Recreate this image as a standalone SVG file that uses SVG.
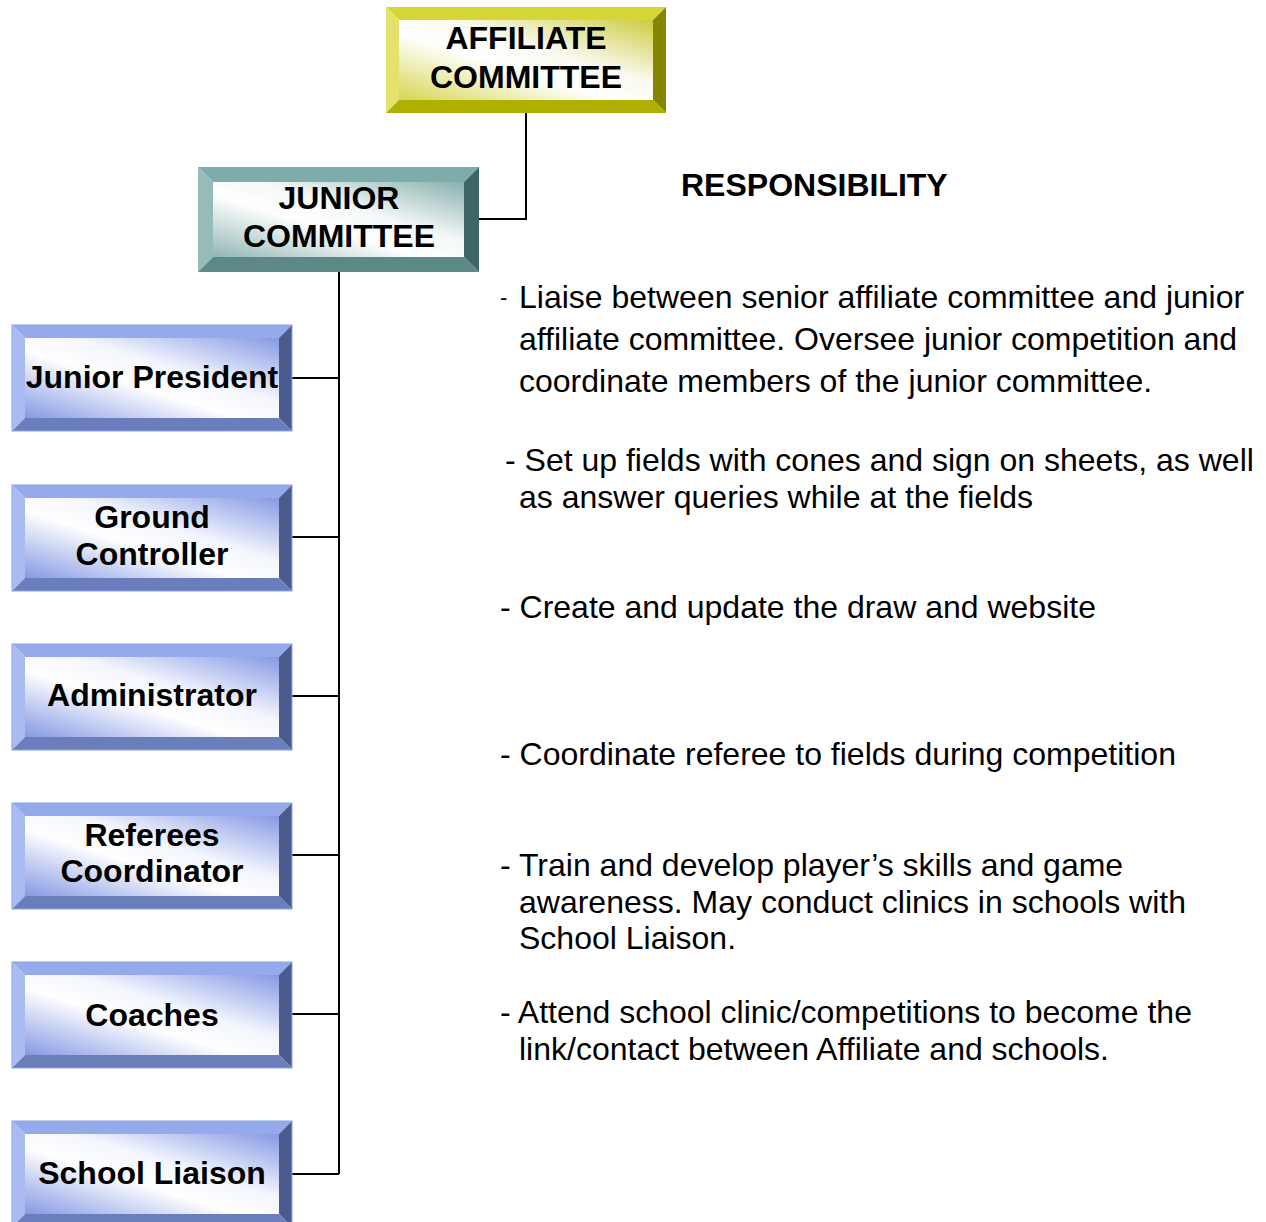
<svg xmlns="http://www.w3.org/2000/svg" width="1266" height="1222" viewBox="0 0 1266 1222">
<style>
.lbl{font-family:"Liberation Sans",Arial,sans-serif;font-weight:bold;font-size:32px;fill:#000;text-anchor:middle}
.txt{font-family:"Liberation Sans",Arial,sans-serif;font-size:32px;fill:#000}
.hd{font-family:"Liberation Sans",Arial,sans-serif;font-weight:bold;font-size:32px;fill:#000}
.con{fill:none;stroke:#000;stroke-width:2}
.bT{fill:#95aaeb}.bL{fill:#aabbf1}.bR{fill:#4b5b8d}.bB{fill:#6a7ebc}.bI{fill:url(#gB)}.bO{fill:none;stroke:#8ea2e6;stroke-width:1}
.yT{fill:#d6d638}.yL{fill:#e2e26c}.yR{fill:#858500}.yB{fill:#b0b000}.yI{fill:url(#gY)}
.tT{fill:#7eacaa}.tL{fill:#96bcba}.tR{fill:#3e6666}.tB{fill:#5c8886}.tI{fill:url(#gT)}
</style>
<defs>
<linearGradient id="gB" x1="0" y1="1" x2="1" y2="0">
<stop offset="0" stop-color="#8599e4"/><stop offset="0.42" stop-color="#ffffff"/><stop offset="0.6" stop-color="#f4f6fe"/><stop offset="1" stop-color="#8599e4"/>
</linearGradient>
<linearGradient id="gY" x1="0" y1="1" x2="1" y2="0">
<stop offset="0" stop-color="#d6d650"/><stop offset="0.42" stop-color="#ffffff"/><stop offset="0.6" stop-color="#fafaf0"/><stop offset="1" stop-color="#cccc40"/>
</linearGradient>
<linearGradient id="gT" x1="0" y1="1" x2="1" y2="0">
<stop offset="0" stop-color="#90b6b4"/><stop offset="0.42" stop-color="#ffffff"/><stop offset="0.6" stop-color="#f4f8f8"/><stop offset="1" stop-color="#88b0ae"/>
</linearGradient>
</defs>
<rect width="1266" height="1222" fill="#fff"/>

<g id="connectors">
<path class="con" d="M526,113 V219 H479"/>
<path class="con" d="M339,272 V1174"/>
<path class="con" d="M292,378 H339"/>
<path class="con" d="M292,537 H339"/>
<path class="con" d="M292,696 H339"/>
<path class="con" d="M292,855 H339"/>
<path class="con" d="M292,1014 H339"/>
<path class="con" d="M292,1174 H339"/>
</g>

<g id="affiliate-committee">
<polygon class="yT" points="386,7 666,7 653,20 399,20"/>
<polygon class="yL" points="386,7 399,20 399,100 386,113"/>
<polygon class="yR" points="666,7 666,113 653,100 653,20"/>
<polygon class="yB" points="386,113 666,113 653,100 399,100"/>
<rect class="yI" x="399" y="20" width="254" height="80"/>
<text class="lbl" x="526" y="49">AFFILIATE</text>
<text class="lbl" x="526" y="88">COMMITTEE</text>
</g>

<g id="junior-committee">
<polygon class="tT" points="198,167 479,167 464,182 213,182"/>
<polygon class="tL" points="198,167 213,182 213,257 198,272"/>
<polygon class="tR" points="479,167 479,272 464,257 464,182"/>
<polygon class="tB" points="198,272 479,272 464,257 213,257"/>
<rect class="tI" x="213" y="182" width="251" height="75"/>
<text class="lbl" x="339" y="209">JUNIOR</text>
<text class="lbl" x="339" y="247">COMMITTEE</text>
</g>

<g id="junior-president" transform="translate(0,325)">
<polygon class="bT" points="12,0 292,0 279,13 25,13"/>
<polygon class="bL" points="12,0 25,13 25,93 12,106"/>
<polygon class="bR" points="292,0 292,106 279,93 279,13"/>
<polygon class="bB" points="12,106 292,106 279,93 25,93"/>
<rect class="bI" x="25" y="13" width="254" height="80"/>
<rect class="bO" x="12" y="0" width="280" height="106"/>
<text class="lbl" x="152" y="63">Junior President</text>
</g>

<g id="ground-controller" transform="translate(0,485)">
<polygon class="bT" points="12,0 292,0 279,13 25,13"/>
<polygon class="bL" points="12,0 25,13 25,93 12,106"/>
<polygon class="bR" points="292,0 292,106 279,93 279,13"/>
<polygon class="bB" points="12,106 292,106 279,93 25,93"/>
<rect class="bI" x="25" y="13" width="254" height="80"/>
<rect class="bO" x="12" y="0" width="280" height="106"/>
<text class="lbl" x="152" y="43">Ground</text>
<text class="lbl" x="152" y="80">Controller</text>
</g>

<g id="administrator" transform="translate(0,644)">
<polygon class="bT" points="12,0 292,0 279,13 25,13"/>
<polygon class="bL" points="12,0 25,13 25,93 12,106"/>
<polygon class="bR" points="292,0 292,106 279,93 279,13"/>
<polygon class="bB" points="12,106 292,106 279,93 25,93"/>
<rect class="bI" x="25" y="13" width="254" height="80"/>
<rect class="bO" x="12" y="0" width="280" height="106"/>
<text class="lbl" x="152" y="62">Administrator</text>
</g>

<g id="referees-coordinator" transform="translate(0,803)">
<polygon class="bT" points="12,0 292,0 279,13 25,13"/>
<polygon class="bL" points="12,0 25,13 25,93 12,106"/>
<polygon class="bR" points="292,0 292,106 279,93 279,13"/>
<polygon class="bB" points="12,106 292,106 279,93 25,93"/>
<rect class="bI" x="25" y="13" width="254" height="80"/>
<rect class="bO" x="12" y="0" width="280" height="106"/>
<text class="lbl" x="152" y="43">Referees</text>
<text class="lbl" x="152" y="79">Coordinator</text>
</g>

<g id="coaches" transform="translate(0,962)">
<polygon class="bT" points="12,0 292,0 279,13 25,13"/>
<polygon class="bL" points="12,0 25,13 25,93 12,106"/>
<polygon class="bR" points="292,0 292,106 279,93 279,13"/>
<polygon class="bB" points="12,106 292,106 279,93 25,93"/>
<rect class="bI" x="25" y="13" width="254" height="80"/>
<rect class="bO" x="12" y="0" width="280" height="106"/>
<text class="lbl" x="152" y="64">Coaches</text>
</g>

<g id="school-liaison" transform="translate(0,1121)">
<polygon class="bT" points="12,0 292,0 279,13 25,13"/>
<polygon class="bL" points="12,0 25,13 25,93 12,106"/>
<polygon class="bR" points="292,0 292,106 279,93 279,13"/>
<polygon class="bB" points="12,106 292,106 279,93 25,93"/>
<rect class="bI" x="25" y="13" width="254" height="80"/>
<rect class="bO" x="12" y="0" width="280" height="106"/>
<text class="lbl" x="152" y="63">School Liaison</text>
</g>

<g id="responsibilities">
<text class="hd" x="681" y="196">RESPONSIBILITY</text>
<text class="txt" x="500" y="305" style="font-size:22px">-</text>
<text class="txt" x="519" y="308">Liaise between senior affiliate committee and junior</text>
<text class="txt" x="519" y="350">affiliate committee. Oversee junior competition and</text>
<text class="txt" x="519" y="392">coordinate members of the junior committee.</text>
<text class="txt" x="505" y="471">- Set up fields with cones and sign on sheets, as well</text>
<text class="txt" x="519" y="508">as answer queries while at the fields</text>
<text class="txt" x="500" y="618">- Create and update the draw and website</text>
<text class="txt" x="500" y="765">- Coordinate referee to fields during competition</text>
<text class="txt" x="500" y="876">- Train and develop player’s skills and game</text>
<text class="txt" x="519" y="913">awareness. May conduct clinics in schools with</text>
<text class="txt" x="519" y="949">School Liaison.</text>
<text class="txt" x="500" y="1023">- Attend school clinic/competitions to become the</text>
<text class="txt" x="519" y="1060">link/contact between Affiliate and schools.</text>
</g>
</svg>
